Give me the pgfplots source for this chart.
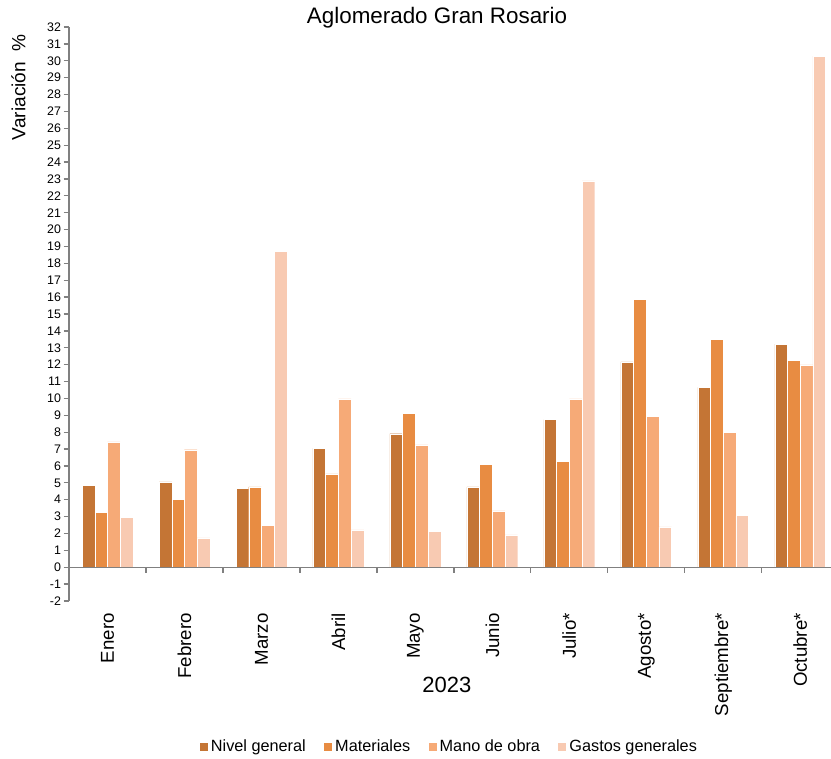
\documentclass[border=0pt]{standalone}
\usepackage{fontspec}
\setmainfont{Liberation Sans}
\usepackage{pgfplots}
\usepackage{pgfplotstable}
\pgfplotsset{compat=1.18}
\usetikzlibrary{calc}
\definecolor{cNivel}{HTML}{C47535}
\definecolor{cMat}{HTML}{E88C42}
\definecolor{cMano}{HTML}{F6AA77}
\definecolor{cGastos}{HTML}{F8CAB2}
\definecolor{axgray}{HTML}{808080}
\pgfplotstableread{
x nivel mat mano gastos
0 4.86 3.26 7.43 2.96
1 5.06 4.03 6.96 1.74
2 4.68 4.76 2.49 18.70
3 7.04 5.53 9.98 2.21
4 7.91 9.13 7.25 2.11
5 4.76 6.11 3.34 1.92
6 8.75 6.28 9.98 22.89
7 12.17 15.87 8.95 2.39
8 10.65 13.50 8.00 3.06
9 13.22 12.27 11.98 30.28
}\datatable
\begin{document}
\begin{tikzpicture}
\begin{axis}[
  scale only axis,
  width=571.5pt, height=430.5pt,
  xmin=-0.5, xmax=9.4,
  ymin=-2, ymax=32,
  axis y line=left,
  axis x line=middle,
  axis on top,
  axis line style={-, draw=axgray, line width=1pt},
  x axis line style={-},
  y axis line style={-},
  ybar,
  bar width=0.165,
  ytick={-2,-1,...,32},
  xtick={0.5,1.5,...,8.5},
  xticklabels={},
  x tick style={draw=axgray, line width=1pt},
  xtick align=outside,
  extra x ticks={0,...,9},
  extra x tick labels={Enero,Febrero,Marzo,Abril,Mayo,Junio,Julio*,Agosto*,Septiembre*,Octubre*},
  extra x tick style={major tick length=0pt, tick style={draw=none}},
  ytick style={draw=axgray, line width=1pt},
  ytick align=outside,
  major tick length=4pt,
  /pgf/number format/assume math mode=true,
  yticklabel style={font=\fontsize{9.3}{11}\selectfont, xshift=1.5pt},
  xticklabel style={font=\fontsize{14}{16}\selectfont, rotate=90, anchor=east, xshift=-31pt},
  title={Aglomerado Gran Rosario},
  title style={font=\fontsize{16.8}{19}\selectfont, at={(rel axis cs:0.483,1)}, anchor=center, yshift=0.75pt},
  xlabel={2023},
  xlabel style={font=\fontsize{16.5}{19}\selectfont, at={(rel axis cs:0.496,0)}, anchor=center, yshift=-63pt},
  ylabel={Variación\ \ \%},
  ylabel style={font=\fontsize{14.3}{16}\selectfont, at={($(rel axis cs:0,0.895)+(-38pt,0)$)}, anchor=center},
  legend style={at={(rel axis cs:0.499,0)}, anchor=center, yshift=-109.5pt, draw=none, fill=none,
    font=\fontsize{12.2}{14}\selectfont, legend columns=4,
    /tikz/every even column/.append style={column sep=11pt}},
  legend image code/.code={\fill[#1] (0pt,-3.4pt) rectangle (6.75pt,3.4pt);},
  clip=false,
]
\addplot[fill=cNivel, draw=white, line width=0.3pt, bar shift=-0.2475] table[x=x, y=nivel] {\datatable};
\addplot[fill=cMat, draw=white, line width=0.3pt, bar shift=-0.0825] table[x=x, y=mat] {\datatable};
\addplot[fill=cMano, draw=white, line width=0.3pt, bar shift=0.0825] table[x=x, y=mano] {\datatable};
\addplot[fill=cGastos, draw=white, line width=0.3pt, bar shift=0.2475] table[x=x, y=gastos] {\datatable};
\legend{Nivel general, Materiales, Mano de obra, Gastos generales}
\coordinate (O) at (rel axis cs:0,0);
\end{axis}
\pgfresetboundingbox
\path (O) ++(-51.75pt,-117.75pt) rectangle ++(623.25pt,568.5pt);
\end{tikzpicture}
\end{document}
